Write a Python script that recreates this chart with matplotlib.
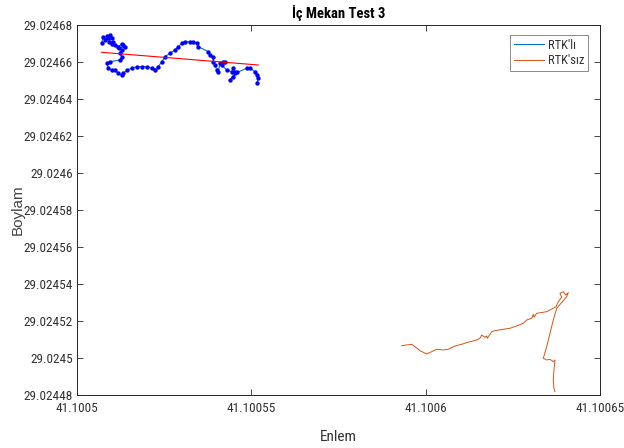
import matplotlib
matplotlib.use("Agg")
import matplotlib.pyplot as plt
from matplotlib.ticker import FixedLocator, FixedFormatter
from matplotlib import font_manager

# ---------------- data ----------------
rtk_lat = [41.10050708, 41.10050746, 41.10050803, 41.1005086, 41.10050898, 41.10050946,
           41.10050995, 41.10050918, 41.10051041, 41.10051004, 41.1005109, 41.10051184,
           41.10051282, 41.10051328, 41.10051377, 41.10051205, 41.10051282, 41.10051233,
           41.10051282, 41.10051233, 41.10050946, 41.10050852, 41.10050898, 41.10051004,
           41.1005109, 41.10051184, 41.10051282, 41.10051328, 41.10051425, 41.10051569,
           41.10051712, 41.10051856, 41.10051999, 41.10052142, 41.10052237, 41.10052332,
           41.10052429, 41.10052524, 41.10052667, 41.10052811, 41.10052905, 41.10053003,
           41.10053097, 41.10053241, 41.10053335, 41.10053433, 41.10053479, 41.10053766,
           41.10053814, 41.10053909, 41.10053909, 41.10053958, 41.10054007, 41.10054052,
           41.10054101, 41.10054196, 41.10054245, 41.1005415, 41.10054293, 41.10054437,
           41.10054483, 41.10054531, 41.1005458, 41.10054483, 41.10054388, 41.10054531,
           41.10054867, 41.10054962, 41.10055105, 41.10055154, 41.100552, 41.10055154]
rtk_lon = [29.02467011, 29.02467351, 29.02467189, 29.02467405, 29.02467281, 29.02467459,
           29.02467281, 29.02467097, 29.02467097, 29.02466973, 29.02466919, 29.02466827,
           29.02466973, 29.02466919, 29.02466827, 29.02466757, 29.02466649, 29.0246647,
           29.02466287, 29.02466108, 29.02466016, 29.0246593, 29.0246566, 29.02465568,
           29.02465568, 29.02465389, 29.02465297, 29.02465389, 29.02465568, 29.0246566,
           29.02465746, 29.02465746, 29.02465746, 29.0246566, 29.02465568, 29.02465746,
           29.02466016, 29.02466287, 29.0246647, 29.02466649, 29.02466827, 29.02467011,
           29.02467097, 29.02467097, 29.02467097, 29.02467011, 29.02466827, 29.02466557,
           29.02466378, 29.02466287, 29.02466016, 29.02465838, 29.02465568, 29.02465476,
           29.0246593, 29.02466016, 29.02466016, 29.02465838, 29.02465568, 29.02465476,
           29.0246566, 29.02465476, 29.02465476, 29.02465206, 29.02465027, 29.02465389,
           29.0246566, 29.0246566, 29.02465476, 29.02465297, 29.02465119, 29.02464849]

fit_lat = [41.10050708, 41.100552]
fit_lon = [29.02466524, 29.02465838]

nortk_lat = [41.10059312, 41.10059599, 41.10059694, 41.10059837, 41.10060029, 41.10060173,
             41.10060316, 41.10060506, 41.10060649, 41.10060841, 41.10061033, 41.10061177,
             41.10061271, 41.10061366, 41.10061463, 41.10061558, 41.10061607, 41.10061701,
             41.1006175, 41.10061767, 41.10061894, 41.10061988, 41.10062226, 41.10062418,
             41.10062611, 41.100628, 41.10062897, 41.10063041, 41.10063087, 41.10063107,
             41.10063184, 41.10063471, 41.1006366, 41.10063738, 41.10063804, 41.10063901,
             41.10063852, 41.10063947, 41.10064016, 41.10064091, 41.10064045, 41.10063758,
             41.1006366, 41.10063566, 41.10063471, 41.10063374, 41.10063471, 41.10063566,
             41.1006366, 41.10063709, 41.1006368, 41.1006366, 41.1006368, 41.10063709]
nortk_lon = [29.02450666, 29.02450742, 29.02450612, 29.02450396, 29.02450218, 29.02450342,
             29.02450472, 29.02450434, 29.02450472, 29.0245065, 29.02450742, 29.02450828,
             29.02450882, 29.0245092, 29.02450974, 29.02451066, 29.02451244, 29.0245112,
             29.0245119, 29.02451066, 29.02451423, 29.02451477, 29.02451553, 29.02451607,
             29.02451731, 29.02451877, 29.02452055, 29.02452147, 29.02452363, 29.02452201,
             29.02452417, 29.02452504, 29.02452688, 29.02452774, 29.02453044, 29.02453282,
             29.02453498, 29.02453585, 29.02453406, 29.02453531, 29.02453315, 29.02452688,
             29.02452055, 29.02451336, 29.02450612, 29.02449985, 29.02449893, 29.02449931,
             29.02449801, 29.02449893, 29.02449353, 29.02448812, 29.02448364, 29.0244818]

x_ticks = [41.1005, 41.10055, 41.1006, 41.10065]
x_labels = ["41.1005", "41.10055", "41.1006", "41.10065"]
y_ticks = [29.02448, 29.0245, 29.02452, 29.02454, 29.02456, 29.02458,
           29.0246, 29.02462, 29.02464, 29.02466, 29.02468]
y_labels = ["29.02448", "29.0245", "29.02452", "29.02454", "29.02456", "29.02458",
            "29.0246", "29.02462", "29.02464", "29.02466", "29.02468"]

title = "İç Mekan Test 3"
xlabel = "Enlem"
ylabel = "Boylam"
legend_labels = ["RTK'lı", "RTK'sız"]

# ---------------- style ----------------
fl = font_manager.fontManager.ttflist
names = {f.name for f in fl}
narrow = None
for cand in ["Liberation Sans Narrow", "DejaVu Sans Condensed", "Roboto Condensed",
             "Open Sans Condensed", "Noto Sans Condensed", "Arial Narrow"]:
    if cand in names:
        narrow = cand
        break
stretch = "normal"
if narrow is None:
    for f in fl:
        if f.name in ("Noto Sans", "Open Sans", "Roboto", "DejaVu Sans") and \
                str(f.stretch) in ("condensed", "semi-condensed", "extra-condensed"):
            narrow = f.name
            stretch = f.stretch
            break
scale = 1.0
if narrow is None:
    narrow = "Liberation Sans"
    scale = 0.85

plt.rcParams["font.family"] = [narrow, "DejaVu Sans"]
plt.rcParams["font.stretch"] = stretch

axis_col = "#262626"
text_col = "#333333"
blue_line = "#0072BD"
orange_line = "#D95319"

fig = plt.figure(figsize=(6.24, 4.48), dpi=100)
ax = fig.add_axes([77 / 624, 53 / 448, 523 / 624, 370 / 448])

ax.plot(rtk_lat, rtk_lon, color=blue_line, lw=0.8, label=legend_labels[0], zorder=2)
ax.plot(rtk_lat, rtk_lon, ls="none", marker=".", ms=4.3, color="#0000FF", zorder=3)
ax.plot(nortk_lat, nortk_lon, color=orange_line, lw=0.7, label=legend_labels[1], zorder=2)
ax.plot(fit_lat, fit_lon, color="#FF0000", lw=0.8, zorder=4)

ax.set_xlim(x_ticks[0], x_ticks[-1])
ax.set_ylim(y_ticks[0], y_ticks[-1])
ax.xaxis.set_major_locator(FixedLocator(x_ticks))
ax.xaxis.set_major_formatter(FixedFormatter(x_labels))
ax.yaxis.set_major_locator(FixedLocator(y_ticks))
ax.yaxis.set_major_formatter(FixedFormatter(y_labels))

ax.tick_params(direction="in", length=4, width=0.6, colors=axis_col,
               labelcolor=text_col, labelsize=9.5 * scale, top=True, right=True, pad=3)
ax.tick_params(axis="x", pad=5)
for s in ax.spines.values():
    s.set_color(axis_col)
    s.set_linewidth(0.7)

ax.set_title(title, fontsize=10.5 * scale, fontweight="bold", color="black", pad=5)
ax.set_xlabel(xlabel, fontsize=11 * scale, color=text_col, labelpad=11)
ax.set_ylabel(ylabel, fontsize=11, color="#444444",
              family=["Liberation Sans", "DejaVu Sans"])
ax.yaxis.set_label_coords(-0.099, 0.5)

leg = ax.legend(loc="upper right", bbox_to_anchor=(0.977, 0.973), fontsize=9 * scale,
                frameon=True, fancybox=False, framealpha=1, edgecolor="#8a8a8a",
                handlelength=2.4, borderpad=0.3, labelspacing=0.2, handletextpad=0.3,
                borderaxespad=0)
leg.get_frame().set_linewidth(0.7)
for t in leg.get_texts():
    t.set_color(text_col)

fig.savefig("out.png", dpi=100)
